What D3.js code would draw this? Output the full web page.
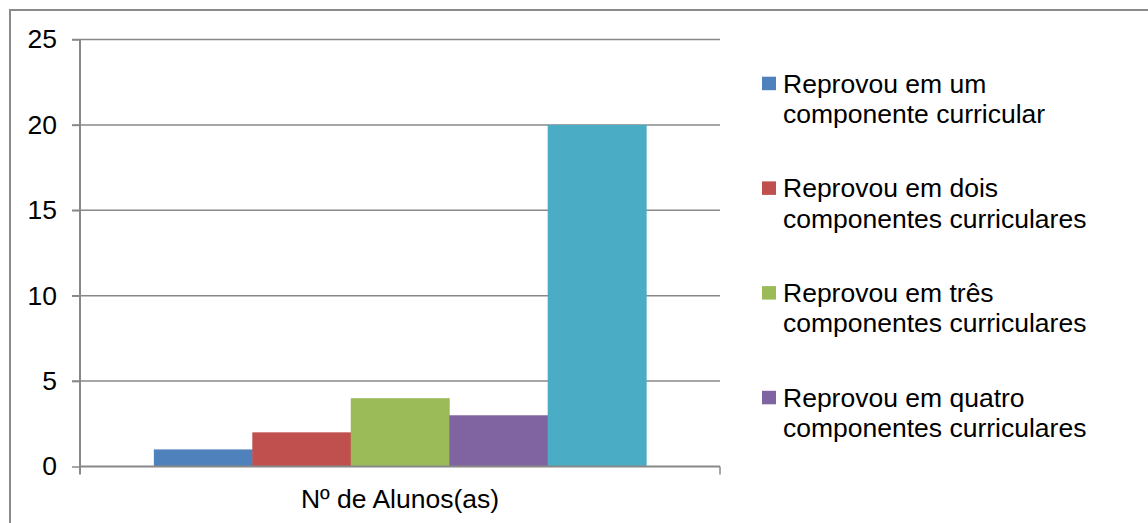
<!DOCTYPE html>
<html>
<head>
<meta charset="utf-8">
<script src="https://cdn.jsdelivr.net/npm/d3@7"></script>
<style>
  body { margin: 0; background: #fff; }
  svg { display: block; font-family: "Liberation Sans", Arial, sans-serif; }
  .tick text { font-size: 26.5px; fill: #000; }
</style>
</head>
<body>
<script>
// data
var categories = ["Nº de Alunos(as)"];
var seriesNames = [
  ["Reprovou em um", "componente curricular"],
  ["Reprovou em dois", "componentes curriculares"],
  ["Reprovou em três", "componentes curriculares"],
  ["Reprovou em quatro", "componentes curriculares"]
];
var seriesValues = [1, 2, 4, 3, 20];
var seriesColors = ["#4F81BD", "#C0504D", "#9BBB59", "#8064A2", "#4BACC6"];
var yTicks = [0, 5, 10, 15, 20, 25];

//begin script when window loads
window.onload = drawChart();

function drawChart(){

    var width = 1148,
        height = 523;

    var svg = d3.select("body")
        .append("svg")
        .attr("width", width)
        .attr("height", height);

    //chart border (right/bottom fall outside the picture)
    svg.append("rect")
        .attr("x", 10)
        .attr("y", 10)
        .attr("width", 1200)
        .attr("height", 600)
        .attr("fill", "none")
        .attr("stroke", "#8a8a8a")
        .attr("stroke-width", 2);

    var left = 80, right = 720, top = 39.5, zero = 466.5;

    var y = d3.scaleLinear()
        .domain([0, 25])
        .range([zero, top]);

    //outer band: one category, gap width 150%
    var x0 = d3.scaleBand()
        .domain(categories)
        .range([left, right])
        .paddingInner(0)
        .paddingOuter(0.15);

    var x1 = d3.scaleBand()
        .domain(d3.range(seriesValues.length))
        .range([0, x0.bandwidth()]);

    //gridlines
    svg.selectAll(".grid")
        .data(yTicks.filter(function(d){ return d > 0; }))
        .enter()
        .append("line")
        .attr("class", "grid")
        .attr("x1", left - 8)
        .attr("x2", right)
        .attr("y1", function(d){ return y(d); })
        .attr("y2", function(d){ return y(d); })
        .attr("stroke", "#888")
        .attr("stroke-width", 1.5);

    //bars
    svg.selectAll(".bar")
        .data(seriesValues)
        .enter()
        .append("rect")
        .attr("class", "bar")
        .attr("x", function(d, i){ return x0(categories[0]) + x1(i); })
        .attr("width", x1.bandwidth() + 0.5)
        .attr("y", function(d){ return y(d); })
        .attr("height", function(d){ return y(0) - y(d); })
        .attr("fill", function(d, i){ return seriesColors[i]; });

    //y axis
    var yAxis = d3.axisLeft(y)
        .tickValues(yTicks)
        .tickSize(8)
        .tickSizeOuter(0)
        .tickPadding(15);

    var gy = svg.append("g")
        .attr("transform", "translate(" + left + ",0)")
        .call(yAxis);
    gy.selectAll("line").attr("stroke", "#888").attr("stroke-width", 1.5);
    gy.select(".domain").attr("stroke", "#888").attr("stroke-width", 2)
        .attr("d", "M0," + top + "V" + (zero + 8));
    gy.selectAll("text").style("font-family", "Liberation Sans, Arial, sans-serif");

    //x axis line with boundary ticks
    svg.append("line")
        .attr("x1", left)
        .attr("x2", right)
        .attr("y1", zero)
        .attr("y2", zero)
        .attr("stroke", "#888")
        .attr("stroke-width", 2);

    svg.append("line")
        .attr("x1", right)
        .attr("x2", right)
        .attr("y1", zero)
        .attr("y2", zero + 8)
        .attr("stroke", "#888")
        .attr("stroke-width", 1.5);

    svg.append("text")
        .attr("x", x0(categories[0]) + x0.bandwidth() / 2)
        .attr("y", 508)
        .attr("text-anchor", "middle")
        .attr("font-size", 26.5)
        .text(categories[0]);

    //legend
    var legend = svg.selectAll(".legend")
        .data(seriesNames)
        .enter()
        .append("g")
        .attr("class", "legend")
        .attr("transform", function(d, i){ return "translate(762," + (92.7 + i * 104.7) + ")"; });

    legend.append("rect")
        .attr("x", 0)
        .attr("y", -16)
        .attr("width", 14)
        .attr("height", 13.5)
        .attr("fill", function(d, i){ return seriesColors[i]; });

    var lt = legend.append("text")
        .attr("font-size", 26.5)
        .attr("fill", "#000");

    lt.selectAll("tspan")
        .data(function(d){ return d; })
        .enter()
        .append("tspan")
        .attr("x", 21)
        .attr("y", function(d, i){ return i * 30.3; })
        .text(function(d){ return d; });
};
</script>
</body>
</html>
